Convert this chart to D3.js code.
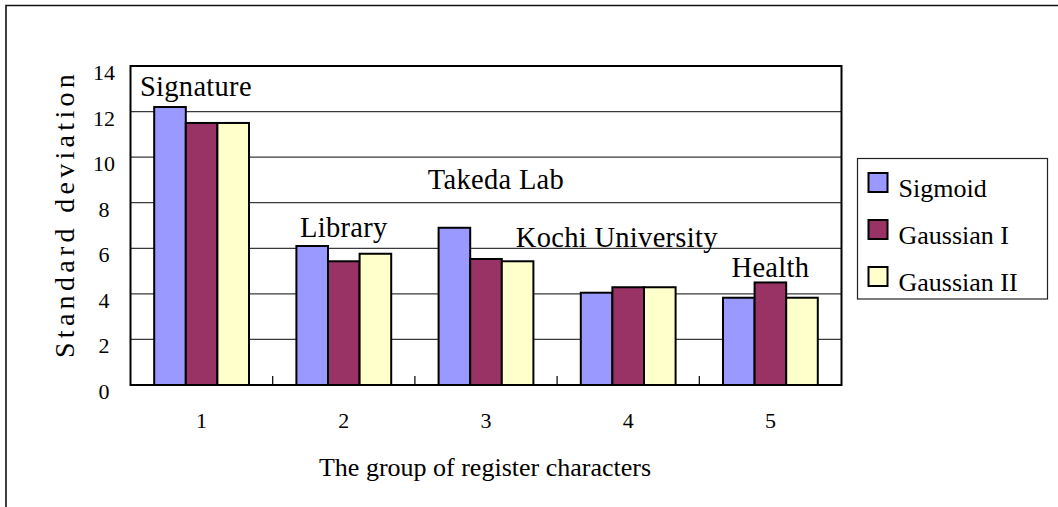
<!DOCTYPE html>
<html>
<head>
<meta charset="utf-8">
<script src="https://cdn.jsdelivr.net/npm/d3@7"></script>
<style>
  html, body { margin: 0; padding: 0; background: #fff; }
  svg { display: block; }
  text { font-family: "Liberation Serif", "Times New Roman", serif; fill: #000; }
</style>
</head>
<body>
<svg id="chart" width="1058" height="507"></svg>
<script>
// Groups of register characters
const categories = ["1", "2", "3", "4", "5"];
// Standard deviation per activation function
const seriesNames = ["Sigmoid", "Gaussian I", "Gaussian II"];
const sigmoid    = [12.2, 6.1, 6.9, 4.05, 3.83];
const gaussianI  = [11.5, 5.43, 5.53, 4.29, 4.5];
const gaussianII = [11.5, 5.76, 5.43, 4.29, 3.83];
const seriesColors = ["#9999FF", "#993366", "#FFFFCC"];
const yTicks = [0, 2, 4, 6, 8, 10, 12, 14];
// Text notes placed in data units (category position, value)
const noteTexts = ["Signature", "Takeda Lab", "Library", "Kochi University", "Health"];
const noteCats  = [0.96, 3.07, 2.0, 3.92, 5.0];
const noteVals  = [12.68, 8.6, 6.5, 6.07, 4.75];

const seriesValues = [sigmoid, gaussianI, gaussianII];
const rows = categories.map((c, i) => ({
  cat: c,
  vals: seriesNames.map((s, k) => ({ series: s, k, value: seriesValues[k][i] }))
}));

const svg = d3.select("#chart");
const plot = { left: 130.5, right: 841.5, top: 66, bottom: 385 };

// Outer chart frame (top and left edges)
svg.append("path")
  .attr("d", `M6,507 V5.5 H1058`)
  .attr("fill", "none").attr("stroke", "#111").attr("stroke-width", 1.6);

const x = d3.scaleBand().domain(categories)
  .range([plot.left, plot.right])
  .paddingInner(1 / 3).paddingOuter(1 / 6);
const xs = d3.scaleBand().domain(seriesNames).range([0, x.bandwidth()]).padding(0);
const xPos = d3.scaleLinear().domain([0.5, categories.length + 0.5]).range([plot.left, plot.right]);
const y = d3.scaleLinear().domain([0, 14]).range([plot.bottom, plot.top]);

// Gridlines
svg.append("g")
  .selectAll("line").data(yTicks.filter(t => t > 0 && t < 14)).join("line")
  .attr("x1", plot.left).attr("x2", plot.right)
  .attr("y1", d => y(d)).attr("y2", d => y(d))
  .attr("stroke", "#3a3a3a").attr("stroke-width", 1.2);

// Bars
svg.append("g")
  .selectAll("g").data(rows).join("g")
  .attr("transform", d => `translate(${x(d.cat)},0)`)
  .selectAll("rect").data(d => d.vals).join("rect")
  .attr("x", d => xs(d.series))
  .attr("y", d => y(d.value))
  .attr("width", xs.bandwidth())
  .attr("height", d => y(0) - y(d.value))
  .attr("fill", d => seriesColors[d.k])
  .attr("stroke", "#000").attr("stroke-width", 2);

// Plot frame
svg.append("rect")
  .attr("x", plot.left).attr("y", plot.top)
  .attr("width", plot.right - plot.left).attr("height", plot.bottom - plot.top)
  .attr("fill", "none").attr("stroke", "#000").attr("stroke-width", 2);

// Category separator ticks (inside)
const step = x.step();
svg.append("g")
  .selectAll("line").data(d3.range(1, categories.length)).join("line")
  .attr("x1", d => plot.left + d * step).attr("x2", d => plot.left + d * step)
  .attr("y1", plot.bottom).attr("y2", plot.bottom - 9)
  .attr("stroke", "#000").attr("stroke-width", 1.2);

// Y axis labels
svg.append("g")
  .selectAll("text").data(yTicks).join("text")
  .attr("x", 104).attr("y", d => y(d) + 6.5)
  .attr("text-anchor", "middle").attr("dominant-baseline", "central")
  .style("font-size", "22px")
  .text(d => d);

// X axis labels
svg.append("g")
  .selectAll("text").data(categories).join("text")
  .attr("x", d => x(d) + x.bandwidth() / 2).attr("y", 420)
  .attr("text-anchor", "middle").attr("dominant-baseline", "central")
  .style("font-size", "22px")
  .text(d => d);

// Axis titles
svg.append("text")
  .attr("transform", "translate(64,214) rotate(-90)")
  .attr("text-anchor", "middle").attr("dominant-baseline", "central")
  .style("font-size", "28px").style("letter-spacing", "4.3px")
  .text("Standard deviation");

svg.append("text")
  .attr("x", 485).attr("y", 467)
  .attr("text-anchor", "middle").attr("dominant-baseline", "central")
  .style("font-size", "26px")
  .text("The group of register characters");

// Notes
svg.append("g")
  .selectAll("text").data(noteTexts).join("text")
  .attr("x", (d, i) => xPos(noteCats[i]))
  .attr("y", (d, i) => y(noteVals[i]))
  .attr("text-anchor", "middle")
  .style("font-size", "28.5px").style("letter-spacing", "0.3px")
  .text(d => d);

// Legend
const legend = svg.append("g");
legend.append("rect")
  .attr("x", 857.5).attr("y", 158.5).attr("width", 190).attr("height", 140.5)
  .attr("fill", "#fff").attr("stroke", "#222").attr("stroke-width", 1.2);
const li = legend.selectAll("g").data(seriesNames).join("g")
  .attr("transform", (d, i) => `translate(868.5,${173 + i * 47})`);
li.append("rect")
  .attr("width", 19).attr("height", 19)
  .attr("fill", (d, i) => seriesColors[i])
  .attr("stroke", "#000").attr("stroke-width", 2);
li.append("text")
  .attr("x", 30).attr("y", 23.5)
  .style("font-size", "26px")
  .text(d => d);
</script>
</body>
</html>
